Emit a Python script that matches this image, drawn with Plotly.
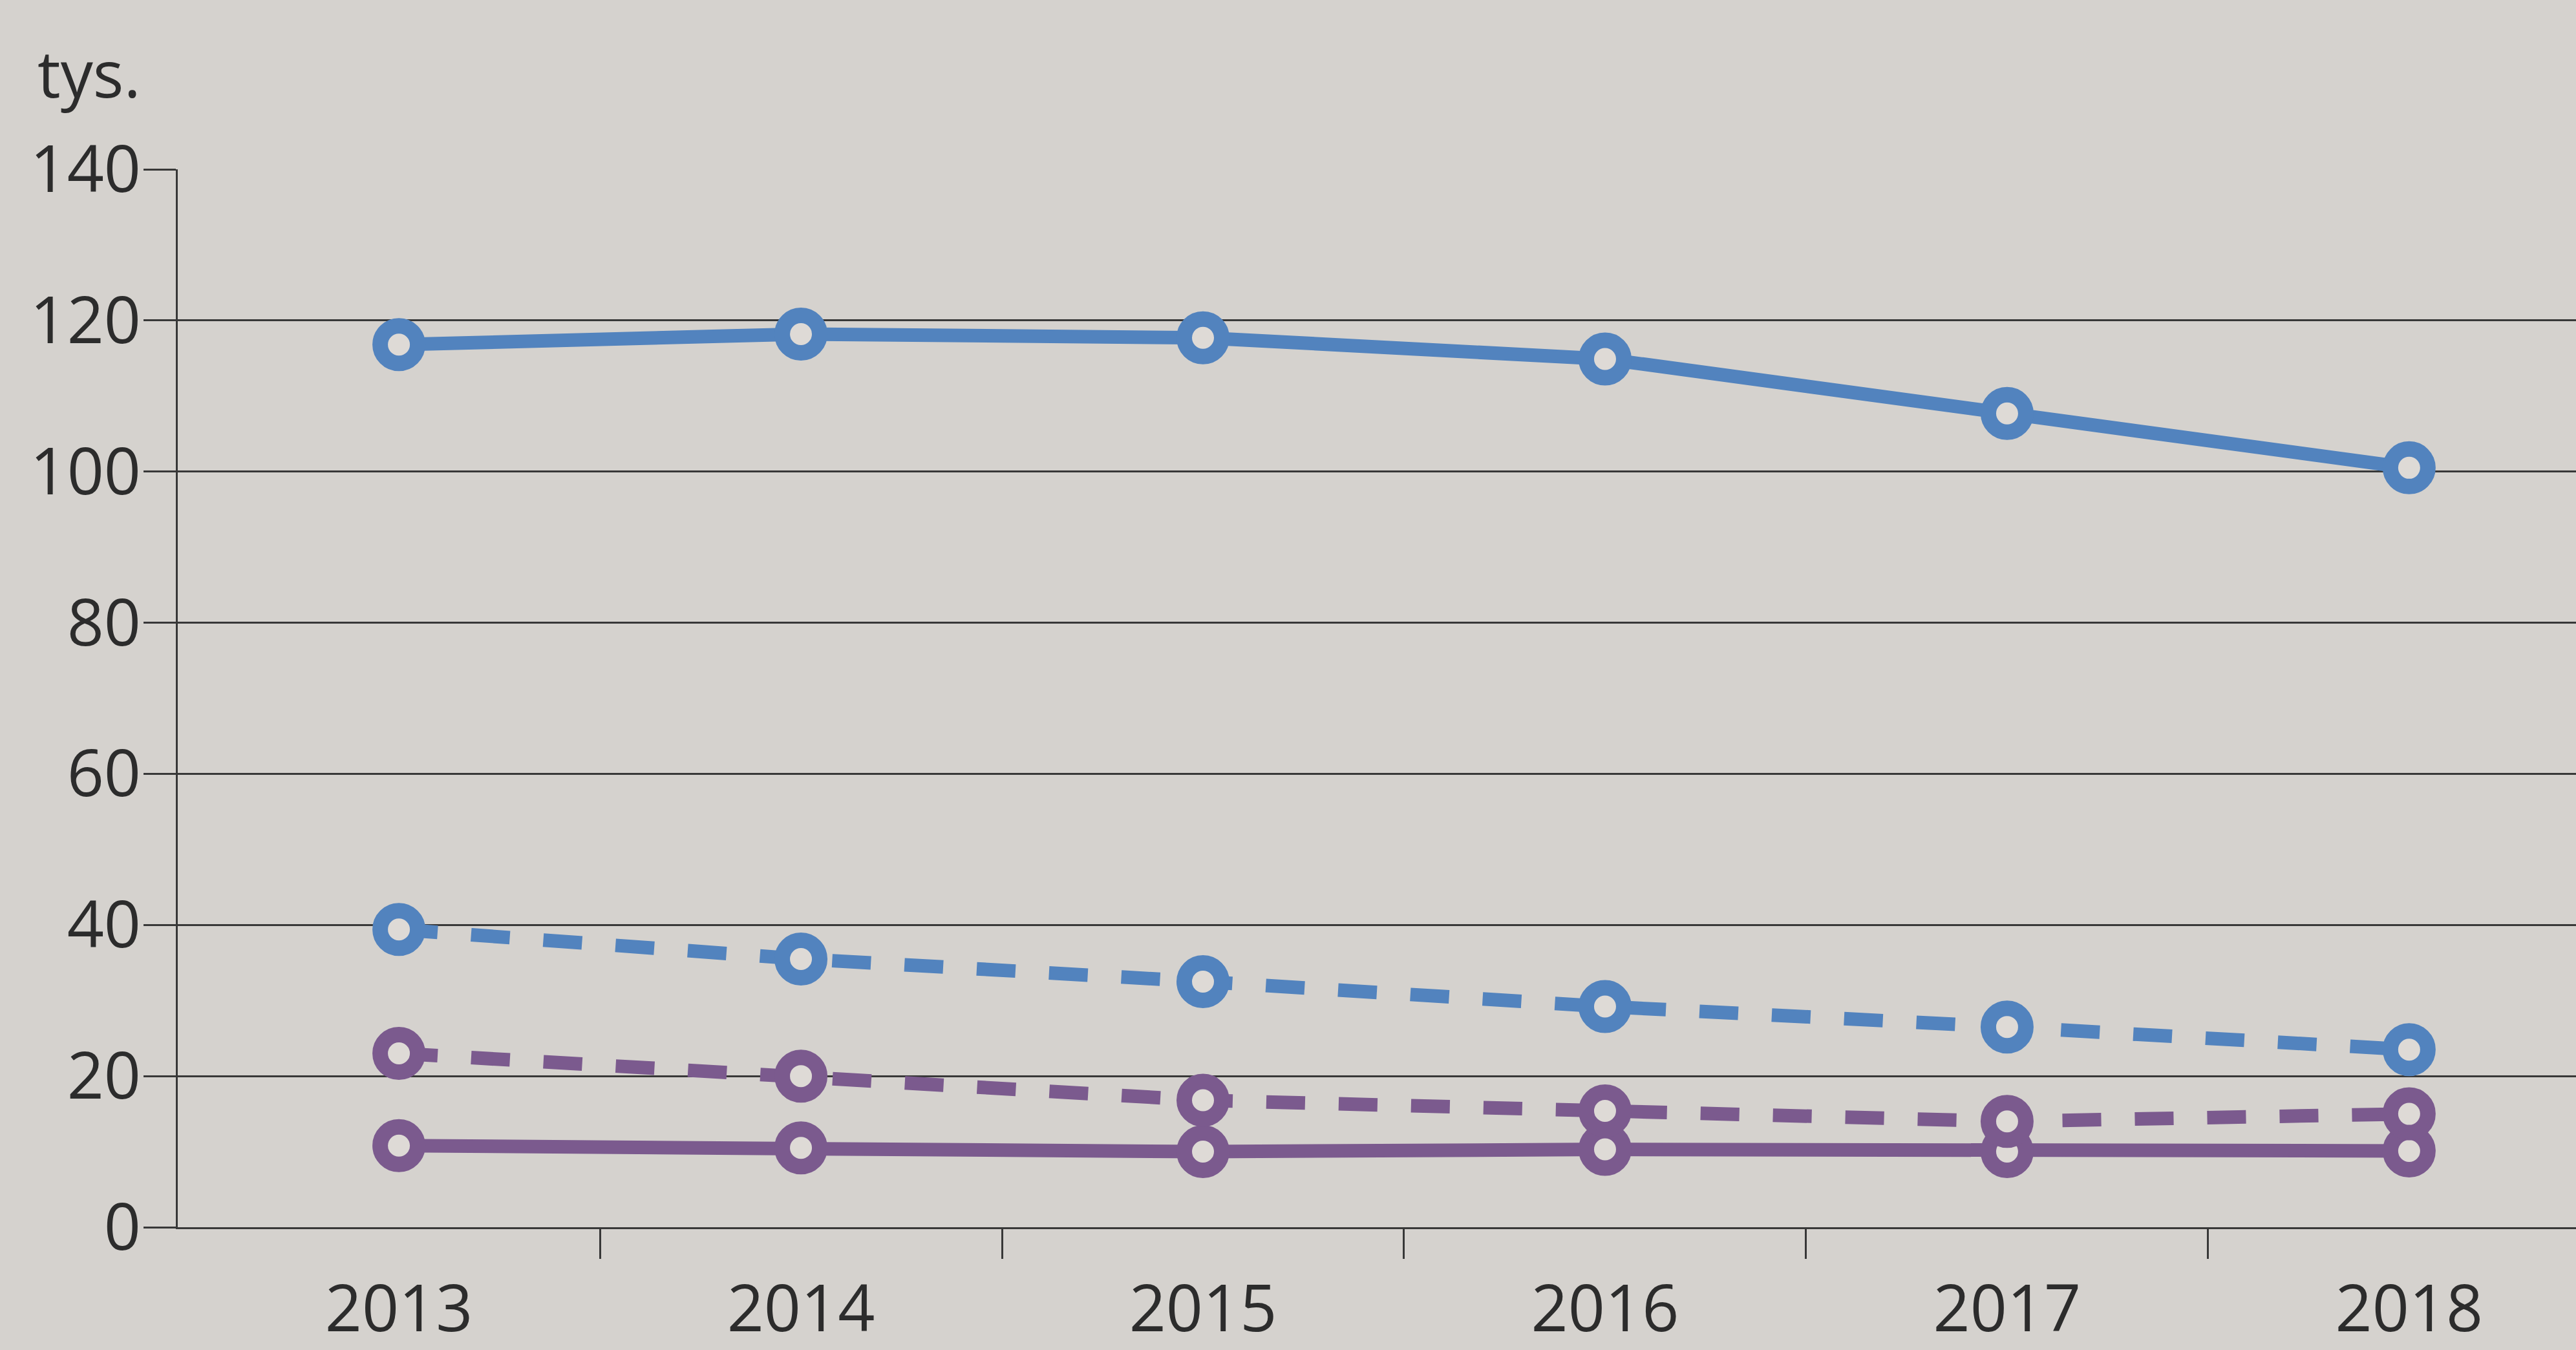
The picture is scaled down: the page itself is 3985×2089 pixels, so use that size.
import plotly.graph_objects as go

# ---- data (thousands, "tys.") ----
years = ["2013", "2014", "2015", "2016", "2017", "2018"]
solid_blue = [116.8, 118.2, 117.7, 114.9, 107.7, 100.5]
dashed_blue = [39.4, 35.5, 32.5, 29.2, 26.5, 23.5]
dashed_purple = [23.0, 20.0, 16.8, 15.4, 14.0, 15.0]
solid_purple = [10.8, 10.5, 10.0, 10.3, 10.0, 10.1]
y_ticks = [0, 20, 40, 60, 80, 100, 120, 140]
unit_label = "tys."

# ---- style ----
BG = "#d5d2ce"
HOLE = "#dedad6"
BLUE = "#5283be"
PURPLE = "#7b5a8e"
INK = "#2c2c2c"
GRID = "#383838"
FONT = "Open Sans"

W, H = 3985, 2089
L, R, T, B = 275, 0, 262, 173

xs = list(range(len(years)))

fig = go.Figure()


def add(values, color, dash):
    fig.add_trace(go.Scatter(
        x=xs, y=values, mode="lines+markers",
        line=dict(color=color, width=21, dash=dash),
        marker=dict(symbol="circle", size=58, color=HOLE,
                    line=dict(color=color, width=24)),
        cliponaxis=False, showlegend=False, hoverinfo="skip",
    ))


add(solid_blue, BLUE, "solid")
add(dashed_blue, BLUE, "60px,52px")
add(solid_purple, PURPLE, "solid")
add(dashed_purple, PURPLE, "60px,52px")

fig.update_layout(
    width=W, height=H, autosize=False,
    margin=dict(l=L, r=R, t=T, b=B, pad=0),
    paper_bgcolor=BG, plot_bgcolor=BG,
    font=dict(family=FONT, color=INK, size=100),
    showlegend=False,
    xaxis=dict(
        range=[-0.55, 5.415],
        tickmode="array", tickvals=xs, ticktext=years,
        ticks="", showgrid=False, zeroline=False,
        showline=True, linecolor=GRID, linewidth=3,
        tickfont=dict(family=FONT, size=100, color=INK),
        ticklabelstandoff=38,
        minor=dict(tickmode="array",
                   tickvals=[i + 0.5 for i in xs[:-1]],
                   ticks="outside", ticklen=46, tickwidth=3,
                   tickcolor=GRID, showgrid=False),
    ),
    yaxis=dict(
        range=[0, 140],
        tickmode="array", tickvals=y_ticks,
        ticks="outside", ticklen=50, tickwidth=3, tickcolor=GRID,
        showgrid=True, gridcolor=GRID, gridwidth=3,
        zeroline=False, showline=True, linecolor=GRID, linewidth=3,
        tickfont=dict(family=FONT, size=100, color=INK),
        ticklabelstandoff=-16,
    ),
    annotations=[dict(
        text=unit_label, xref="paper", yref="paper",
        x=(56 - L) / (W - L - R), y=(H - B - 110) / (H - T - B),
        xanchor="left", yanchor="middle", showarrow=False,
        font=dict(family=FONT, size=100, color=INK),
    )],
)

fig.write_html("out.html", config={"displayModeBar": False},
               post_script="document.body.style.margin='0';")
